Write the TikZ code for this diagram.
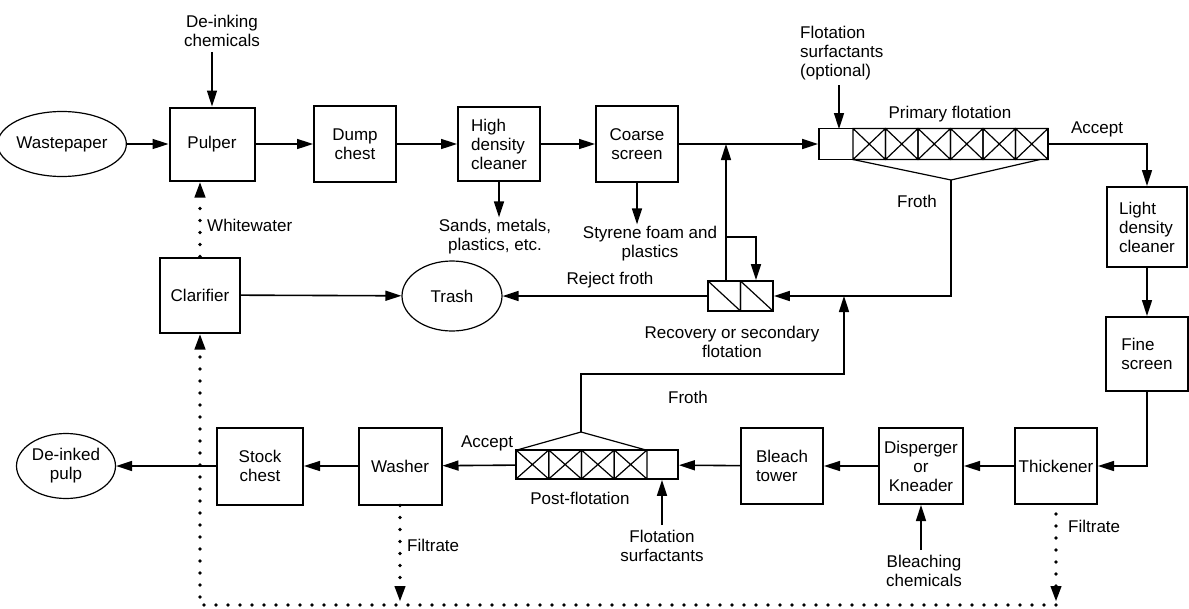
\documentclass[tikz,border=0pt]{standalone}
\usepackage{fontspec}
\setmainfont{Liberation Sans}
\usetikzlibrary{shapes.geometric,arrows.meta}
\tikzset{
  unit/.style={draw,line width=2pt,minimum width=82pt,minimum height=76pt,inner sep=2pt,align=center},
  unitl/.style={unit,align=left},
  stream/.style={ellipse,draw,line width=1.2pt,inner sep=0pt,align=center},
  lbl/.style={inner sep=0pt,align=center},
  flow/.style={line width=1.6pt,-{Triangle[length=16pt,width=10pt]}},
  water/.style={line width=3.8pt,line cap=round,dash pattern=on 0pt off 12pt},
  waterflow/.style={water,-{Triangle[length=16pt,width=10pt]}},
  bank/.style={draw,line width=1.8pt,inner sep=0pt},
  cell/.style={line width=1.2pt},
}
\begin{document}
\begin{tikzpicture}[x=1pt,y=-1pt,font=\fontsize{17}{19}\selectfont]
\useasboundingbox (0,0) rectangle (1189,608);
% top line
\node[stream,minimum width=107pt,minimum height=65pt] (wp) at (62,144) {Wastepaper};
\node[unit,minimum width=85pt,minimum height=73pt] (pulper) at (212,144) {Pulper};
\node[unit] (dump) at (355,144) {Dump\\chest};
\node[unitl,minimum height=74pt] (hdc) at (499,144) {High\\density\\cleaner};
\node[unit] (coarse) at (637,144) {Coarse\\screen};
\node[bank,minimum width=229pt,minimum height=31pt] (prim) at (933.5,144) {};
\foreach \i in {0,...,5}
  \draw[cell] ({853+32.5*\i},128.5) rectangle +(32.5,31) +(0,0) -- +(32.5,31) +(32.5,0) -- +(0,31);
\coordinate (pfroth) at (951,180);
\draw[cell] (853,159.5) -- (pfroth) -- (1040,159.5);
% right column
\node[unitl,minimum width=80pt,minimum height=80pt] (ldc) at (1147,227) {Light\\density\\cleaner};
\node[unitl,minimum height=74pt] (fine) at (1147,354) {Fine\\screen};
% bottom line
\node[unit] (thick) at (1056,466) {Thickener};
\node[unit,minimum width=84pt] (disp) at (921,466) {Disperger\\or\\Kneader};
\node[unitl] (bleach) at (782,466) {Bleach\\tower};
\node[bank,minimum width=162pt,minimum height=29pt] (post) at (597,464.5) {};
\foreach \i in {0,...,3}
  \draw[cell] ({516+32.75*\i},450) rectangle +(32.75,29) +(0,0) -- +(32.75,29) +(32.75,0) -- +(0,29);
\coordinate (pofroth) at (581,432);
\draw[cell] (517,450) -- (pofroth) -- (646,450);
\node[unit,minimum width=83pt,minimum height=77pt] (washer) at (400,466) {Washer};
\node[unit,minimum width=86pt,minimum height=77pt] (stock) at (260,466) {Stock\\chest};
\node[stream,minimum width=99pt,minimum height=65pt] (dip) at (66,466) {De-inked\\pulp};
% middle
\node[unit,minimum width=80pt,minimum height=75pt] (clar) at (200,295) {Clarifier};
\node[stream,minimum width=100pt,minimum height=70pt] (trash) at (452,296) {Trash};
\node[bank,minimum width=65pt,minimum height=30pt] (recov) at (740.5,296) {};
\foreach \i in {0,1}
  \draw[cell] ({708+32.5*\i},281) rectangle +(32.5,30) +(0,0) -- +(32.5,30);
% labels
\node[lbl] (dechem) at (222,31) {De-inking\\chemicals};
\node[lbl] (sands) at (495,237) {Sands, metals,\\plastics, etc.};
\node[lbl] (styrene) at (650,244) {Styrene foam and\\plastics};
\node[lbl,anchor=west,align=left] (surf) at (800,53) {Flotation\\surfactants\\(optional)};
\node[lbl] (primlbl) at (950,114) {Primary flotation};
\node[lbl] (accept1) at (1097,129) {Accept};
\node[lbl] (froth1) at (917,201) {Froth};
\node[lbl] (reject) at (610,280) {Reject froth};
\node[lbl] (recovlbl) at (732,342) {Recovery or secondary\\flotation};
\node[lbl] (froth2) at (688,397) {Froth};
\node[lbl] (accept2) at (487,443) {Accept};
\node[lbl] (postlbl) at (580,498) {Post-flotation};
\node[lbl] (psurf) at (662,546) {Flotation\\surfactants};
\node[lbl] (bchem) at (924,571) {Bleaching\\chemicals};
\node[lbl,anchor=west] (ww) at (207,225) {Whitewater};
\node[lbl,anchor=west] (filt1) at (407,545) {Filtrate};
\node[lbl,anchor=west] (filt2) at (1068,526) {Filtrate};
% main flow
\draw[flow] (wp) -- (pulper);
\draw[flow] (pulper) -- (dump);
\draw[flow] (dump) -- (hdc);
\draw[flow] (hdc) -- (coarse);
\draw[flow] (coarse) -- (prim);
\draw[flow,shorten <=5pt] (dechem.south -| pulper.north) -- (pulper.north);
\draw[flow,shorten >=2pt] (hdc.south) -- (hdc.south |- sands.north);
\draw[flow,shorten >=2pt] (coarse.south) -- (coarse.south |- styrene.north);
\coordinate (surfin) at (839,129);
\draw[flow,shorten <=5pt] (surfin |- surf.south) -- (surfin);
\draw[flow] (prim.east) -| (ldc.north);
\draw[flow] (ldc) -- (fine);
\draw[flow] (fine.south) |- (thick.east);
\draw[flow] (thick) -- (disp);
\draw[flow] (disp) -- (bleach);
\draw[flow] (bleach) -- (post);
\draw[flow] (post) -- (washer);
\draw[flow] (washer) -- (stock);
\draw[flow] (stock) -- (dip);
\draw[flow,shorten <=5pt] (bchem.north -| disp.south) -- (disp.south);
\draw[flow,shorten <=5pt] (psurf.north) -- (post.south -| psurf.north);
% froth and recovery
\draw[flow] (pfroth) |- (recov.east);
\coordinate (merge) at (844,296);
\coordinate (fbend) at (581,374);
\draw[flow] (pofroth) -- (fbend) -| (merge);
\draw[flow] (recov) -- (trash);
\coordinate (raccept) at (726,281);
\coordinate (rjoin) at (726,144);
\draw[flow] (raccept) -- (rjoin);
\coordinate (rsplit) at (726,237);
\draw[flow] (rsplit) -| ([xshift=15.5pt]recov.north);
\draw[flow] (clar) -- (trash);
% water loop
\coordinate (drainR) at (1056,605);
\coordinate (drainL) at (200,605);
\draw[waterflow] (clar.north) -- (clar.north |- pulper.south);
\draw[waterflow,shorten >=3pt] (washer.south) -- (washer.south |- drainR);
\draw[waterflow,shorten >=3pt] ([yshift=-9pt]thick.south) -- (drainR);
\draw[waterflow] (drainR) -- (drainL) -- (clar.south);
\end{tikzpicture}
\end{document}
